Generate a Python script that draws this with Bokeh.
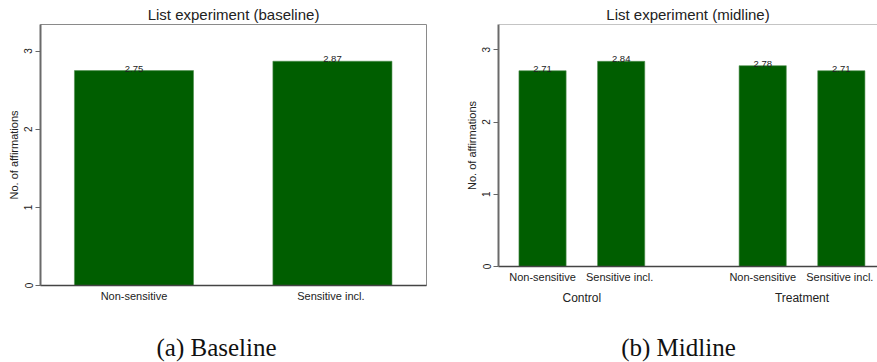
from bokeh.plotting import figure
from bokeh.models import Range1d, FixedTicker, LinearAxis, Span, Label
from bokeh.layouts import column, row
from bokeh.embed import file_html
from bokeh.resources import INLINE
from bokeh.core.properties import value

# ---- data ----
base_cats = ["Non-sensitive", "Sensitive  incl."]
base_vals = [2.75, 2.87]
mid_groups = ["Control", "Treatment"]
mid_cats = ["Non-sensitive", "Sensitive  incl."]
mid_vals_control = [2.71, 2.84]
mid_vals_treatment = [2.78, 2.71]
y_ticks = [0, 1, 2, 3]
titles = ["List experiment (baseline)", "List experiment (midline)"]
captions = ["(a) Baseline", "(b) Midline"]
y_label = "No. of affirmations"

GREEN = "#005e00"
FONT = "Liberation Sans"
TXT = "#222222"


def style(p, xtick_keys, xtick_labels):
    p.xgrid.visible = False
    p.ygrid.visible = False
    p.title.text_font = FONT
    p.title.text_font_size = "15px"
    p.title.text_font_style = "normal"
    p.title.text_color = TXT
    p.title.align = "center"
    p.title.standoff = 3
    xa = p.xaxis[0]
    xa.ticker = FixedTicker(ticks=xtick_keys)
    xa.major_label_overrides = dict(zip(xtick_keys, xtick_labels))
    xa.major_tick_line_color = None
    xa.major_tick_out = 0
    xa.major_tick_in = 0
    xa.minor_tick_line_color = None
    xa.major_label_standoff = 4
    xa.major_label_text_font = FONT
    xa.major_label_text_font_size = "11px"
    xa.major_label_text_color = TXT
    xa.axis_line_color = "#444444"
    xa.axis_line_width = 1.5
    ya = p.yaxis[0]
    ya.ticker = FixedTicker(ticks=y_ticks)
    ya.major_label_orientation = "vertical"
    ya.minor_tick_line_color = None
    ya.major_tick_out = 5
    ya.major_tick_in = 0
    ya.major_tick_line_color = "#666666"
    ya.major_label_standoff = 3
    ya.major_label_text_font = FONT
    ya.major_label_text_font_size = "10px"
    ya.major_label_text_color = TXT
    ya.axis_line_color = "#6a6a6a"
    ya.axis_line_width = 2
    ya.axis_label = y_label
    ya.axis_label_text_font = FONT
    ya.axis_label_text_font_size = "11px"
    ya.axis_label_text_font_style = "normal"
    ya.axis_label_text_color = TXT
    ya.axis_label_standoff = 2


# ---- (a) baseline ----
bx = list(range(len(base_cats)))
p1 = figure(width=440, height=310, title=titles[0],
            x_range=Range1d(-0.471, 1.474), y_range=Range1d(0, 3.34),
            output_backend="svg", toolbar_location=None,
            min_border_left=40, min_border_right=14,
            min_border_top=24, min_border_bottom=25)
p1.vbar(x=bx, top=base_vals, width=0.6, fill_color=GREEN,
        line_color="#4f8f4f", line_width=0.6)
p1.text(x=bx, y=base_vals, text=[f"{v:.2f}" for v in base_vals],
        text_align="center", text_baseline="bottom", y_offset=1,
        text_font=value(FONT), text_font_size="9.5px", text_color=TXT)
style(p1, bx, base_cats)
p1.outline_line_color = "#8a8a8a"
p1.outline_line_width = 1

# ---- (b) midline ----
GROUP_STEP = len(mid_cats) + 0.8
mx, mv, mlab = [], [], []
for g, vals in enumerate([mid_vals_control, mid_vals_treatment]):
    for i, v in enumerate(vals):
        mx.append(g * GROUP_STEP + i)
        mv.append(v)
        mlab.append(mid_cats[i])
gx = [g * GROUP_STEP + (len(mid_cats) - 1) / 2 for g in range(len(mid_groups))]

p2 = figure(width=437, height=310, title=titles[1],
            x_range=Range1d(-0.56, 4.26), y_range=Range1d(0, 3.35),
            output_backend="svg", toolbar_location=None,
            min_border_left=58, min_border_right=0,
            min_border_top=24, min_border_bottom=44)
p2.vbar(x=mx, top=mv, width=0.6, fill_color=GREEN,
        line_color="#4f8f4f", line_width=0.6)
p2.text(x=mx, y=mv, text=[f"{v:.2f}" for v in mv],
        text_align="center", text_baseline="bottom", y_offset=1,
        text_font=value(FONT), text_font_size="9.5px", text_color=TXT)
style(p2, mx, mlab)
p2.title.offset = 4
p2.outline_line_color = None
p2.add_layout(Span(location=3.35, dimension="width", line_color="#8a8a8a", line_width=1))

gaxis = LinearAxis(ticker=FixedTicker(ticks=gx),
                   major_label_overrides=dict(zip(gx, mid_groups)))
gaxis.axis_line_color = None
gaxis.major_tick_line_color = None
gaxis.minor_tick_line_color = None
gaxis.major_tick_out = 0
gaxis.major_tick_in = 0
gaxis.major_label_standoff = 5
gaxis.major_label_text_font = FONT
gaxis.major_label_text_font_size = "12px"
gaxis.major_label_text_color = TXT
p2.add_layout(gaxis, "below")

# ---- captions ----
pc = figure(width=877, height=52, x_range=Range1d(0, 877), y_range=Range1d(0, 52),
            output_backend="svg", toolbar_location=None,
            min_border=0)
pc.axis.visible = False
pc.grid.visible = False
pc.outline_line_color = None
for cx, cap in zip([216, 678], captions):
    pc.add_layout(Label(x=cx, y=15, text=cap,
                        text_align="center", text_baseline="alphabetic",
                        text_font="Liberation Serif", text_font_size="25px",
                        text_color="#111111"))

layout = column(row(column(p1), column(p2)), column(pc))
open("out.html", "w").write(file_html(layout, INLINE))
